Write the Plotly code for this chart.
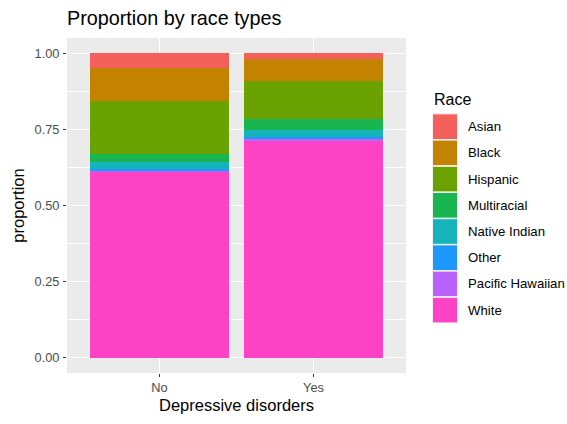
import plotly.graph_objects as go

# Share of each race within each depressive-disorder group
groups = ["No", "Yes"]
races = ["Asian", "Black", "Hispanic", "Multiracial", "Native Indian",
         "Other", "Pacific Hawaiian", "White"]
share_no = [0.050, 0.107, 0.174, 0.027, 0.022, 0.006, 0.004, 0.610]
share_yes = [0.020, 0.070, 0.126, 0.037, 0.023, 0.005, 0.004, 0.715]
colors = ["#F4605B", "#C38200", "#6AA202", "#18B551", "#16B4BA",
          "#1C97FE", "#B962FD", "#FC43C5"]

FONT = "Liberation Sans, Arial, sans-serif"

fig = go.Figure()
# stack from the bottom: White first, Asian on top
for i in reversed(range(len(races))):
    fig.add_trace(go.Bar(
        x=groups, y=[share_no[i], share_yes[i]], name=races[i],
        marker=dict(color=colors[i], line=dict(width=0)),
        width=0.9, showlegend=False,
    ))

# plot area geometry in pixels (used for the hand-drawn legend)
W, H = 567, 424
L, R, T, B = 67, 161, 38, 46
pw, ph = W - L - R, H - T - B

def px_x(px):
    return (px - L) / pw

def px_y(py):
    return (H - B - py) / ph

shapes, annotations = [], []
annotations.append(dict(text="Race", x=px_x(432), y=px_y(100), xref="paper", yref="paper",
                        xanchor="left", yanchor="middle", showarrow=False,
                        font=dict(family=FONT, size=16, color="black")))
y0 = 128
step = 26.6
for k, (name, col) in enumerate(zip(races, colors)):
    cy = y0 + k * step
    shapes.append(dict(type="rect", xref="paper", yref="paper",
                       x0=px_x(432.5), x1=px_x(457.5),
                       y0=px_y(cy - 13), y1=px_y(cy + 13),
                       fillcolor=col, line=dict(color="#F2F2F2", width=1)))
    annotations.append(dict(text=name, x=px_x(466), y=px_y(cy), xref="paper", yref="paper",
                            xanchor="left", yanchor="middle", showarrow=False,
                            font=dict(family=FONT, size=13.2, color="black")))

fig.update_layout(
    barmode="stack",
    width=W, height=H,
    margin=dict(l=L, r=R, t=T, b=B),
    paper_bgcolor="white",
    plot_bgcolor="#EBEBEB",
    font=dict(family=FONT, color="black"),
    title=dict(text="Proportion by race types", x=0, xref="paper", xanchor="left",
               y=1 - 18 / H, yanchor="middle",
               font=dict(family=FONT, size=19.8, color="black")),
    shapes=shapes,
    annotations=annotations,
)

fig.update_xaxes(
    range=[-0.6, 1.6],
    showgrid=True, gridcolor="white", gridwidth=1.1,
    ticks="outside", ticklen=3, tickcolor="#333333", tickwidth=1,
    tickfont=dict(family=FONT, size=12.8, color="#4D4D4D"),
    title=dict(text="Depressive disorders", font=dict(family=FONT, size=16.5, color="black"),
               standoff=5),
    zeroline=False, showline=False,
)
fig.update_yaxes(
    range=[-0.05, 1.05],
    tickmode="array", tickvals=[0, 0.25, 0.5, 0.75, 1.0],
    ticktext=["0.00", "0.25", "0.50", "0.75", "1.00"],
    showgrid=True, gridcolor="white", gridwidth=1.1,
    minor=dict(tickmode="array", tickvals=[0.125, 0.375, 0.625, 0.875],
               showgrid=True, gridcolor="white", gridwidth=0.5, ticks=""),
    ticks="outside", ticklen=3, tickcolor="#333333", tickwidth=1,
    tickfont=dict(family=FONT, size=12.8, color="#4D4D4D"),
    ticklabelstandoff=1,
    title=dict(text="proportion", font=dict(family=FONT, size=16.5, color="black"),
               standoff=5),
    zeroline=False, showline=False,
)

fig.write_html("out.html")
